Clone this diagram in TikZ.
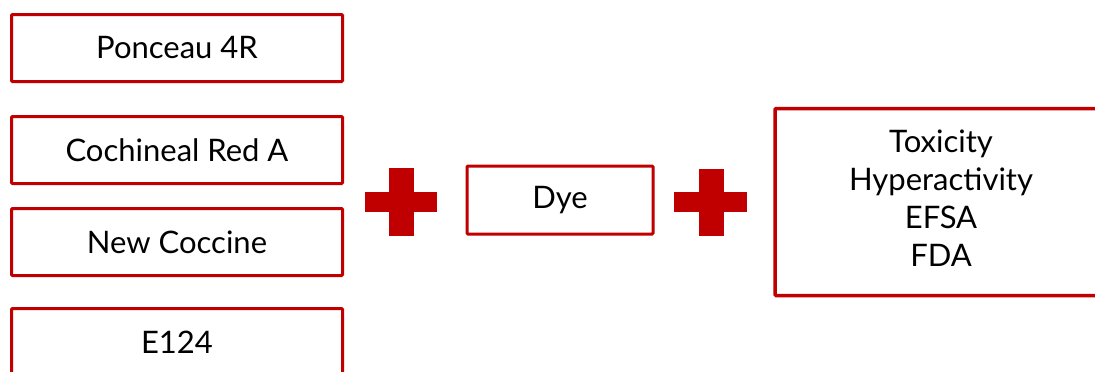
\documentclass[tikz,border=0pt]{standalone}
\usepackage{fontspec}
\setmainfont{Lato}
\definecolor{boxred}{HTML}{C00000}
\begin{document}
\begin{tikzpicture}[x=1pt,y=-1pt,
  box/.style={draw=boxred,line width=3pt,rounded corners=1pt,fill=white,
    minimum width=331pt,minimum height=67pt,inner sep=0pt,align=center,
    font=\fontsize{31}{38}\selectfont},
  plusbar/.style={fill=boxred,draw=none}]
\useasboundingbox (0,0) rectangle (1095,372);
\node[box] (p4r) at (177,48) {Ponceau 4R};
\node[box] (crA) at (177,150) {Cochineal Red A};
\node[box] (nc) at (177,242) {New Coccine};
\node[box] (e124) at (177,342) {E124};
\node[box,minimum width=186pt,minimum height=68pt] (dye) at (560,200) {Dye};
\node[box,line width=3.5pt,minimum width=332pt,minimum height=187pt] (eff) at (941,202) {};
\node[font=\fontsize{31}{38}\selectfont,align=center,inner sep=0pt] (efftext) at ([yshift=4pt]eff.center) {Toxicity\\Hyperactivity\\EFSA\\FDA};
\fill[plusbar] (365,192) rectangle (437,212);
\fill[plusbar] (388.5,168) rectangle (414,236);
\fill[plusbar] (674,192) rectangle (747,212);
\fill[plusbar] (698.5,169) rectangle (724,236);
\end{tikzpicture}
\end{document}
